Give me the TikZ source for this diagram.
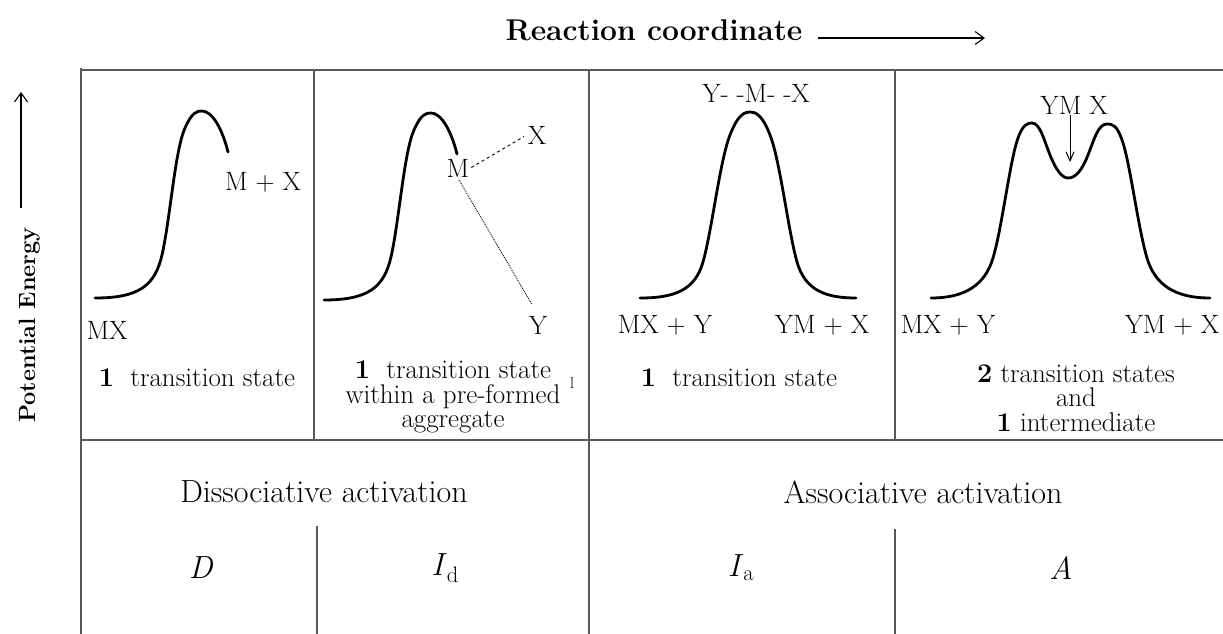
\documentclass[tikz,border=0pt]{standalone}
\usepackage{amsmath}
\usetikzlibrary{arrows.meta}
\newcommand{\panelfont}{\fontsize{26.5}{23}\selectfont}
\newcommand{\notefont}{\fontsize{27}{24.5}\selectfont}
\newcommand{\rowfont}{\fontsize{32}{36}\selectfont}

\begin{document}
\begin{tikzpicture}[x=1pt, y=-1pt,
  grid/.style={draw=black!65, line width=1.1pt},
  curve/.style={line width=2.8pt, line cap=round, line join=round},
  axis/.style={-{Straight Barb[length=9pt, width=13pt]}, line width=1.1pt},
  lbl/.style={font=\panelfont, inner sep=1pt},
  note/.style={font=\notefont, align=center, inner sep=0pt},
  row/.style={font=\rowfont, inner sep=1pt}]
\useasboundingbox (0,0) rectangle (1223,634);

% table frame
\draw[grid] (81,68) -- (81,634);
\draw[grid] (81,70) -- (1223,70);
\draw[grid] (81,440) -- (1223,440);
\draw[grid] (314,70) -- (314,440);
\draw[grid] (589,70) -- (589,634);
\draw[grid] (895,70) -- (895,440);
\draw[grid] (317,526) -- (317,634);
\draw[grid] (895,529) -- (895,634);

% axes
\node[font=\bfseries\fontsize{30}{34}\selectfont] (rc) at (654,30) {Reaction coordinate};
\coordinate (rcstart) at (818,38);
\coordinate (rcend) at (985,38);
\draw[axis] (rcstart) -- (rcend);
\node[rotate=90, font=\bfseries\fontsize{23.5}{28}\selectfont] (pe) at (30,325) {Potential Energy};
\coordinate (pestart) at (21,208);
\coordinate (peend) at (21,92);
\draw[axis] (pestart) -- (peend);

% D
\draw[curve] (95,298) .. controls (140,298) and (155,285) .. (162,255)
  .. controls (170,220) and (175,150) .. (185,128)
  .. controls (192,112) and (197,111) .. (202,111)
  .. controls (212,111) and (222,128) .. (228,152);
\node[lbl] (mx1) at (107,330) {MX};
\node[lbl] (mpx1) at (263,182) {M + X};
\node[note] (ts1) at (197,378) {\textbf{1} \ transition state};

% Id
\begin{scope}[shift={(229,2)}]
\draw[curve] (95,298) .. controls (140,298) and (155,285) .. (162,255)
  .. controls (170,220) and (175,150) .. (185,128)
  .. controls (192,112) and (197,111) .. (202,111)
  .. controls (212,111) and (222,128) .. (228,152);
\end{scope}
\node[lbl] (m2) at (458,168) {M};
\node[lbl] (x2) at (537,135) {X};
\node[lbl] (y2) at (538,325) {Y};
\draw[dashed, line width=0.9pt, shorten <=1pt, shorten >=3pt] (m2.east) -- (x2.west);
\draw[densely dotted, line width=0.9pt, shorten <=2pt, shorten >=12pt] (m2.south) -- (y2.north);
\node[note] (ts2) at (453,397) {\textbf{1} \ transition state\\within a pre-formed\\aggregate};
\node[font=\fontsize{16}{16}\selectfont, inner sep=0pt] (tick2) at (572,383) {l};

% Ia
\draw[curve] (640,298) .. controls (675,298) and (695,290) .. (703,262)
  .. controls (712,230) and (720,160) .. (730,135)
  .. controls (738,114) and (745,112) .. (750,112)
  .. controls (755,112) and (762,114) .. (770,135)
  .. controls (780,160) and (788,230) .. (797,262)
  .. controls (805,290) and (825,298) .. (856,298);
\node[lbl] (ymx3) at (756,93) {Y- -M- -X};
\node[lbl] (mxy3) at (665,325) {MX + Y};
\node[lbl] (ymx3b) at (822,325) {YM + X};
\node[note] (ts3) at (739,378) {\textbf{1} \ transition state};

% A
\draw[curve] (931,298) .. controls (965,298) and (985,285) .. (993,258)
  .. controls (1002,228) and (1010,160) .. (1018,138)
  .. controls (1023,124) and (1028,123) .. (1032,123)
  .. controls (1040,123) and (1044,140) .. (1050,155)
  .. controls (1056,170) and (1062,178) .. (1068,178)
  .. controls (1076,178) and (1082,170) .. (1088,155)
  .. controls (1094,140) and (1098,124) .. (1107,124)
  .. controls (1112,124) and (1117,125) .. (1122,140)
  .. controls (1130,162) and (1138,228) .. (1147,258)
  .. controls (1155,285) and (1175,298) .. (1210,298);
\node[lbl] (ymx4) at (1074,105) {YM X};
\coordinate (dip) at (1070,162);
\draw[-{Straight Barb[length=9pt, width=8pt]}, line width=1pt] (ymx4.south -| dip) -- (dip);
\node[lbl] (mxy4) at (948,325) {MX + Y};
\node[lbl] (ymx4b) at (1172,325) {YM + X};
\node[note] (ts4) at (1076,398) {\textbf{2} transition states\\and\\\textbf{1} intermediate};

% mechanisms
\node[row] (diss) at (324,492) {Dissociative activation};
\node[row] (assoc) at (923,492) {Associative activation};
\node[row] (md) at (201,568) {\textit{D}};
\node[row] (mid) at (445,568) {\textit{I}\textsubscript{d}};
\node[row] (mia) at (741,568) {\textit{I}\textsubscript{a}};
\node[row] (ma) at (1061,568) {\textit{A}};
\end{tikzpicture}
\end{document}
